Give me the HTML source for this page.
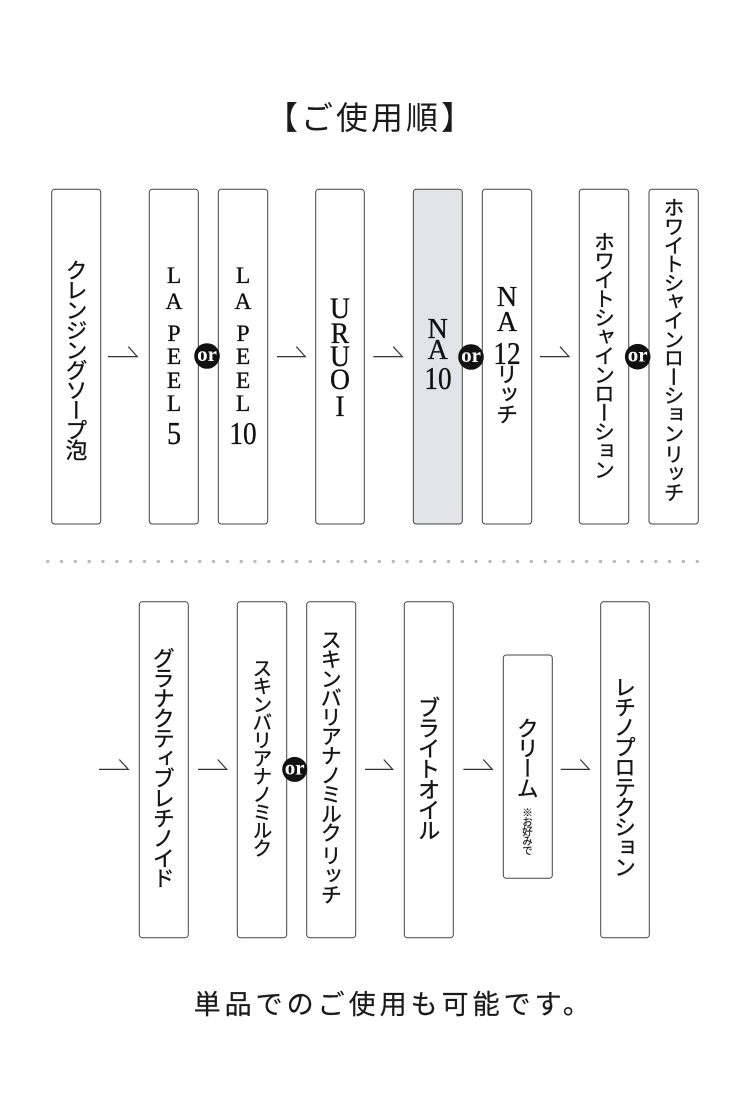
<!DOCTYPE html>
<html><head><meta charset="utf-8">
<style>
html,body{margin:0;padding:0;background:#fff;}
body{width:751px;height:1120px;position:relative;overflow:hidden;}
.l{position:absolute;width:50px;text-align:center;font-family:"Liberation Serif",serif;line-height:1;color:#111;white-space:nowrap;-webkit-text-stroke:0.35px #111;}
.v{position:absolute;writing-mode:vertical-rl;text-orientation:upright;font-family:"Noto Sans CJK JP","Liberation Sans",sans-serif;color:#151515;white-space:nowrap;-webkit-text-stroke:0.35px #151515;}
.h{position:absolute;font-family:"Noto Sans CJK JP","Liberation Sans",sans-serif;color:#1a1a1a;white-space:nowrap;line-height:1;}
</style></head><body>
<svg width="751" height="1120" style="position:absolute;left:0;top:0">
<g fill="#fff" stroke="#444" stroke-width="1">
<rect x="51.7" y="189.3" width="49" height="334.7" rx="3"/>
<rect x="149.3" y="189.3" width="49" height="334.7" rx="3"/>
<rect x="218.3" y="189.3" width="49.4" height="334.7" rx="3"/>
<rect x="315.7" y="189.3" width="48.6" height="334.7" rx="3"/>
<rect x="413.3" y="189.3" width="49" height="334.7" rx="3" fill="#e3e4e8"/>
<rect x="482.3" y="189.3" width="49.4" height="334.7" rx="3"/>
<rect x="579.3" y="189.3" width="49.4" height="334.7" rx="3"/>
<rect x="649" y="189.3" width="49.3" height="334.7" rx="3"/>
<rect x="139.3" y="601.7" width="49" height="336" rx="3"/>
<rect x="237.3" y="601.7" width="49.4" height="336" rx="3"/>
<rect x="306.7" y="601.7" width="49" height="336" rx="3"/>
<rect x="404.3" y="601.7" width="49" height="336" rx="3"/>
<rect x="503.3" y="655" width="49" height="223.3" rx="3"/>
<rect x="600.7" y="601.7" width="48.6" height="336" rx="3"/>
</g>
<g fill="none" stroke="#333" stroke-width="1.2">
<path d="M108 356.6H137.3L128.3 346.7"/>
<path d="M277 356.6H305.3L296.3 346.7"/>
<path d="M373.3 356.6H402.3L393.3 346.7"/>
<path d="M540 356.6H569L560 346.7"/>
<path d="M99 769.4H128.3L119.3 759.5"/>
<path d="M198 769.4H226.7L217.7 759.5"/>
<path d="M365 769.4H392.7L383.7 759.5"/>
<path d="M463.3 769.4H492.3L483.3 759.5"/>
<path d="M560.7 769.4H589.3L580.3 759.5"/>
</g>
<line x1="47.7" y1="561.5" x2="697.6" y2="561.5" stroke="#b8b8b8" stroke-width="3.3" stroke-linecap="round" stroke-dasharray="0 13.82"/>
<g fill="#111">
<circle cx="207" cy="356" r="12.8"/>
<circle cx="471" cy="357" r="12.8"/>
<circle cx="637.7" cy="356.7" r="12.8"/>
<circle cx="294.7" cy="769.4" r="12.5"/>
</g>
<g fill="#fff" font-family="Liberation Serif, serif" font-weight="bold" font-size="21" text-anchor="middle">
<text x="207" y="361">or</text>
<text x="471" y="362">or</text>
<text x="637.7" y="361.7">or</text>
<text x="294.7" y="774.4">or</text>
</g>
</svg>

<div class="h" style="left:266px;top:100px;font-size:32px;letter-spacing:3px;">【ご使用順】</div>

<!-- top row -->
<div class="v" style="left:65.5px;top:258.5px;font-size:22px;line-height:22px;width:22px;letter-spacing:-2px;">クレンジングソープ泡</div>

<div class="l" style="left:149px;top:264.5px;font-size:23.5px;">L</div>
<div class="l" style="left:149px;top:291.2px;font-size:23.5px;">A</div>
<div class="l" style="left:149px;top:322.9px;font-size:23.5px;">P</div>
<div class="l" style="left:149px;top:346.2px;font-size:23.5px;">E</div>
<div class="l" style="left:149px;top:369.5px;font-size:23.5px;">E</div>
<div class="l" style="left:149px;top:392.9px;font-size:23.5px;">L</div>
<div class="l" style="left:149px;top:417.2px;font-size:32px;transform:scaleX(0.88);">5</div>

<div class="l" style="left:218px;top:264.5px;font-size:23.5px;">L</div>
<div class="l" style="left:218px;top:291.2px;font-size:23.5px;">A</div>
<div class="l" style="left:218px;top:322.9px;font-size:23.5px;">P</div>
<div class="l" style="left:218px;top:346.2px;font-size:23.5px;">E</div>
<div class="l" style="left:218px;top:369.5px;font-size:23.5px;">E</div>
<div class="l" style="left:218px;top:392.9px;font-size:23.5px;">L</div>
<div class="l" style="left:218px;top:417.2px;font-size:32px;transform:scaleX(0.85);">10</div>

<div class="l" style="left:315px;top:293.7px;font-size:30px;transform:scaleX(0.92);">U</div>
<div class="l" style="left:315px;top:318.7px;font-size:30px;transform:scaleX(0.92);">R</div>
<div class="l" style="left:315px;top:342.1px;font-size:30px;transform:scaleX(0.92);">U</div>
<div class="l" style="left:315px;top:365.4px;font-size:30px;transform:scaleX(0.92);">O</div>
<div class="l" style="left:315px;top:392.1px;font-size:30px;transform:scaleX(0.92);">I</div>

<div class="l" style="left:412.8px;top:315.7px;font-size:28px;">N</div>
<div class="l" style="left:412.8px;top:337.4px;font-size:28px;">A</div>
<div class="l" style="left:412.8px;top:362.2px;font-size:32px;transform:scaleX(0.85);">10</div>

<div class="l" style="left:482px;top:284px;font-size:28px;">N</div>
<div class="l" style="left:482px;top:309px;font-size:28px;">A</div>
<div class="l" style="left:482px;top:337.2px;font-size:32px;transform:scaleX(0.85);">12</div>
<div class="v" style="left:496px;top:363px;font-size:22px;line-height:22px;width:22px;letter-spacing:-2px;">リッチ</div>

<div class="v" style="left:593.5px;top:231px;font-size:20.9px;line-height:20.9px;width:20.9px;letter-spacing:-1.9px;">ホワイトシャインローション</div>
<div class="v" style="left:663.3px;top:197px;font-size:20.7px;line-height:20.7px;width:20.7px;letter-spacing:-1.9px;">ホワイトシャインローション<span style="margin-top:3px;display:inline-block;">リッチ</span></div>

<!-- bottom row -->
<div class="v" style="left:152.8px;top:647px;font-size:22px;line-height:22px;width:22px;letter-spacing:-2px;">グラナクティブレチノイド</div>
<div class="v" style="left:252.1px;top:658px;font-size:19.8px;line-height:19.8px;width:19.8px;letter-spacing:-1.8px;">スキンバリアナノミルク</div>
<div class="v" style="left:320.6px;top:629px;font-size:21.2px;line-height:21.2px;width:21.2px;letter-spacing:-1.9px;">スキンバリアナノミルク<span style="margin-top:4px;display:inline-block;">リッチ</span></div>
<div class="v" style="left:417.5px;top:696px;font-size:22.5px;line-height:22.5px;width:22.5px;letter-spacing:-2px;">ブライトオイル</div>
<div class="v" style="left:516.8px;top:716.5px;font-size:22px;line-height:22px;width:22px;letter-spacing:-2px;">クリーム</div>
<div class="v" style="left:521.5px;top:807px;font-size:10.5px;line-height:10.5px;width:10.5px;letter-spacing:-1px;-webkit-text-stroke:0.15px #151515;">※お好みで</div>
<div class="v" style="left:614px;top:676px;font-size:22px;line-height:22px;width:22px;letter-spacing:-2px;">レチノプロテクション</div>

<div class="h" style="left:193.6px;top:989px;font-size:27px;letter-spacing:4px;-webkit-text-stroke:0.2px #1a1a1a;">単品でのご使用も可能です。</div>
</body></html>
